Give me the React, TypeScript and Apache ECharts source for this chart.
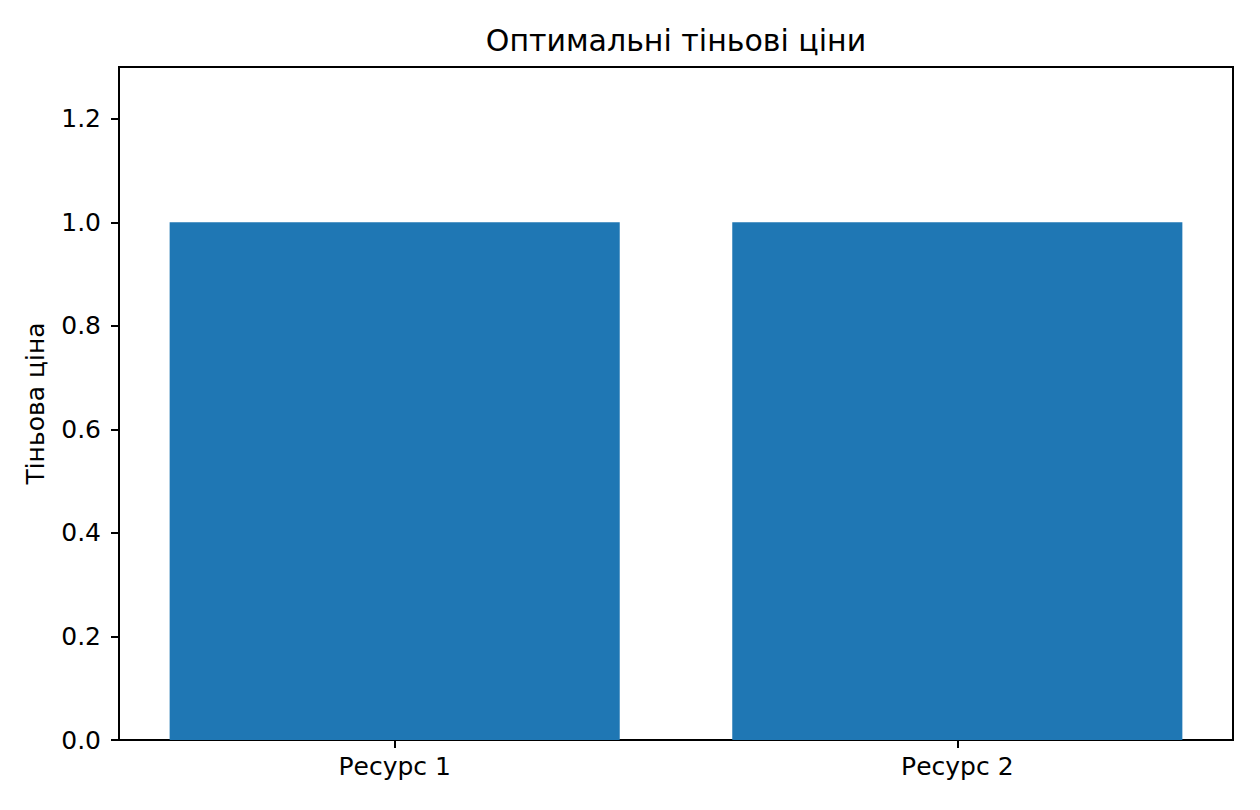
import React, { useEffect, useRef } from 'react'
import * as echarts from 'echarts'

// дані графіка
const categories = ['Ресурс 1', 'Ресурс 2']
const shadowPrices = [1.0, 1.0]
const yTicks = [0, 0.2, 0.4, 0.6, 0.8, 1.0, 1.2]
const xTicks = [0, 1]

const FONT = 'DejaVu Sans'

const App: React.FC = () => {
    const chartRef = useRef<HTMLDivElement | null>(null)

    useEffect(() => {
        document.body.style.margin = '0'
        if (!chartRef.current) return
        const chart = echarts.init(chartRef.current, null, { renderer: 'svg' })

        const option = {
            animation: false,
            backgroundColor: '#fff',
            title: {
                text: 'Оптимальні тіньові ціни',
                left: 671,
                top: 20,
                textAlign: 'center',
                textStyle: { fontFamily: FONT, fontSize: 30, fontWeight: 'normal', color: '#000' },
            },
            grid: {
                left: 119,
                right: 27,
                top: 67,
                bottom: 70,
                show: true,
                borderColor: '#000',
                borderWidth: 2,
                backgroundColor: 'transparent',
            },
            xAxis: {
                type: 'value',
                min: -0.49,
                max: 1.49,
                splitLine: { show: false },
                axisLine: { show: true, onZero: false, lineStyle: { color: '#000', width: 2 } },
                axisTick: {
                    show: true,
                    customValues: xTicks,
                    length: 8,
                    lineStyle: { color: '#000', width: 2 },
                },
                axisLabel: {
                    customValues: xTicks,
                    margin: 14,
                    fontFamily: FONT,
                    fontSize: 25,
                    color: '#000',
                    formatter: (v: number) => categories[Math.round(v)] ?? '',
                },
            },
            yAxis: {
                type: 'value',
                min: 0,
                max: 1.3,
                name: 'Тіньова ціна',
                nameLocation: 'middle',
                nameRotate: 90,
                nameGap: 71,
                nameTextStyle: { fontFamily: FONT, fontSize: 25, color: '#000' },
                splitLine: { show: false },
                axisLine: { show: true, onZero: false, lineStyle: { color: '#000', width: 2 } },
                axisTick: {
                    show: true,
                    customValues: yTicks,
                    length: 8,
                    lineStyle: { color: '#000', width: 2 },
                },
                axisLabel: {
                    customValues: yTicks,
                    margin: 18,
                    fontFamily: FONT,
                    fontSize: 25,
                    color: '#000',
                    formatter: (v: number) => v.toFixed(1),
                },
            },
            series: [
                {
                    type: 'bar',
                    data: categories.map((_, i) => [xTicks[i], shadowPrices[i]]),
                    barWidth: '80%',
                    itemStyle: { color: '#1f77b4' },
                },
            ],
        }

        chart.setOption(option as any)

        return () => {
            chart.dispose()
        }
    }, [])

    return <div ref={chartRef} style={{ width: 1260, height: 810 }} />
}

export default App
